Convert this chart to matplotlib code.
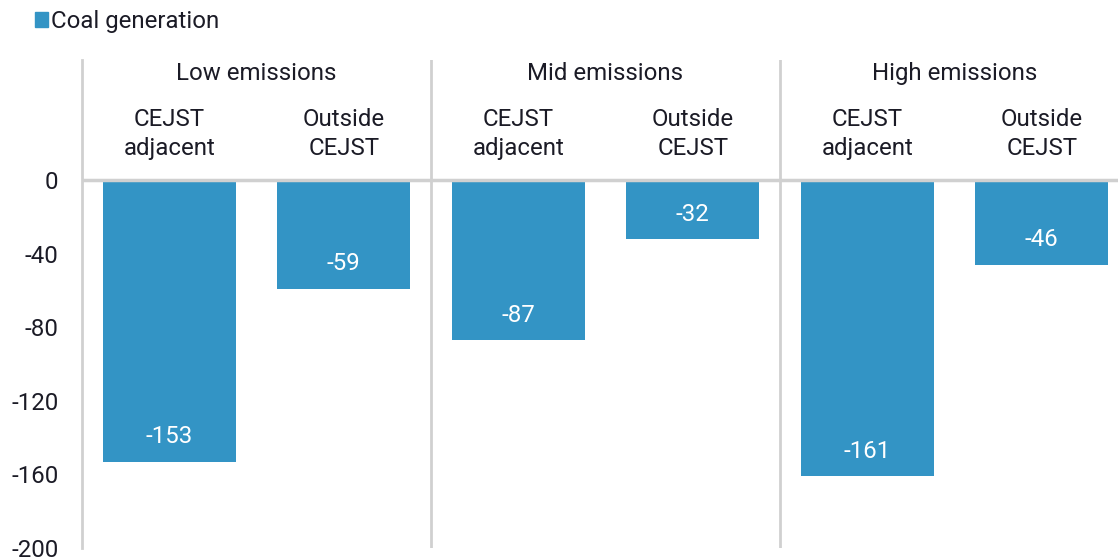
import matplotlib.pyplot as plt
from matplotlib.patches import Patch
import numpy as np

# --- data ---
groups = ["Low emissions", "Mid emissions", "High emissions"]
categories = ["CEJST\nadjacent", "Outside\nCEJST"]
coal_generation = [-153, -59, -87, -32, -161, -46]
yticks = [0, -40, -80, -120, -160, -200]

BAR = "#3394c5"
GRID = "#d0d0d0"
TEXT = "#1b1b26"
FS = 17.3

plt.rcParams["font.family"] = ["Roboto", "DejaVu Sans"]

W, H = 1118, 558
fig = plt.figure(figsize=(W / 100, H / 100), dpi=100)
# axes is slightly wider than the canvas, right edge gets cropped like the source
ax = fig.add_axes([82 / W, 10 / H, 1047 / W, 488 / H])

x = np.arange(len(coal_generation))
bars = ax.bar(x, coal_generation, width=0.76, color=BAR, zorder=2)

ax.set_xlim(-0.5, len(x) - 0.5)
ax.set_ylim(-200, 65.4)
ax.set_yticks(yticks)
ax.set_yticklabels([str(v) for v in yticks], fontsize=FS, color=TEXT)
ax.tick_params(axis="y", length=0, pad=17)
ax.set_xticks([])

for s in ["top", "right", "bottom"]:
    ax.spines[s].set_visible(False)
ax.spines["left"].set_color(GRID)
ax.spines["left"].set_linewidth(2)

ax.axhline(0, color=GRID, lw=2.5, zorder=3)
for sep in [1.5, 3.5]:
    ax.axvline(sep, color=GRID, lw=2, zorder=1)

# value labels inside the bar ends
for rect, v in zip(bars, coal_generation):
    ax.annotate(str(v), (rect.get_x() + rect.get_width() / 2, v),
                xytext=(0, 25), textcoords="offset pixels",
                ha="center", va="center", color="white", fontsize=FS)

# group and category headers above zero
for gi, g in enumerate(groups):
    ax.text(gi * 2 + 0.5, 58.0, g, ha="center", va="center", fontsize=FS, color=TEXT)
    for ci, c in enumerate(categories):
        ax.text(gi * 2 + ci, 25.3, c, ha="center", va="center", fontsize=FS,
                color=TEXT, linespacing=1.32)

fig.legend(handles=[Patch(color=BAR)], labels=["Coal generation"],
           loc="upper left", bbox_to_anchor=(13 / W, 1.021), frameon=False,
           fontsize=FS, handlelength=0.55, handleheight=0.55, handletextpad=0.15,
           labelcolor=TEXT)

fig.savefig("out.png", dpi=100)
